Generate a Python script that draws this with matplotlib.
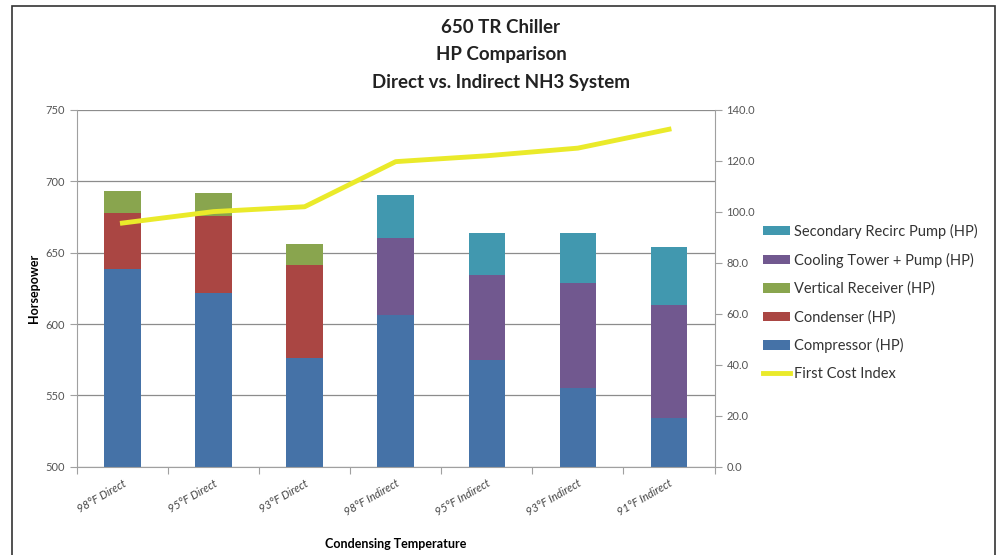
import numpy as np
import matplotlib
matplotlib.use("Agg")
from matplotlib import pyplot as plt
from matplotlib.patches import Rectangle

plt.rcParams.update({
    "font.family": ["Lato", "DejaVu Sans"],
    "font.size": 8,
})

categories = ["98°F Direct", "95°F Direct", "93°F Direct", "98°F Indirect",
              "95°F Indirect", "93°F Indirect", "91°F Indirect"]

# stacked horsepower segments (left axis starts at 500)
compressor = [638.5, 621.5, 576.5, 606, 575, 555, 534]
condenser = [39.5, 54.5, 64.5, 0, 0, 0, 0]
vertical_receiver = [15, 15.5, 15, 0, 0, 0, 0]
cooling_tower = [0, 0, 0, 54.5, 59, 74, 79.5]
secondary_pump = [0, 0, 0, 30, 30, 35, 40.5]

first_cost_index = [95.6, 100.1, 102.0, 119.7, 122.0, 125.0, 132.4]

colors = {
    "Compressor (HP)": "#4572A7",
    "Condenser (HP)": "#AA4643",
    "Vertical Receiver (HP)": "#89A54E",
    "Cooling Tower + Pump (HP)": "#71588F",
    "Secondary Recirc Pump (HP)": "#4198AF",
}

fig = plt.figure(figsize=(9.98, 5.55), dpi=100)
fig.patches.append(Rectangle((0.012, -0.01), 0.985, 1.0, transform=fig.transFigure,
                             fill=False, edgecolor="#333333", linewidth=1.2))

ax = fig.add_axes([0.077, 0.159, 0.639, 0.643])
x = np.arange(len(categories))
w = 0.4

bottom = np.zeros(len(categories))
series = [("Compressor (HP)", compressor), ("Condenser (HP)", condenser),
          ("Vertical Receiver (HP)", vertical_receiver),
          ("Cooling Tower + Pump (HP)", cooling_tower),
          ("Secondary Recirc Pump (HP)", secondary_pump)]
handles = {}
for i, (name, vals) in enumerate(series):
    vals = np.array(vals, dtype=float)
    if i == 0:
        b = ax.bar(x, vals - 500, w, bottom=500, color=colors[name], zorder=2)
        bottom = vals.copy()
    else:
        b = ax.bar(x, vals, w, bottom=bottom, color=colors[name], zorder=2)
        bottom = bottom + vals
    handles[name] = b

ax.set_ylim(500, 750)
ax.set_xlim(-0.5, len(categories) - 0.5)
ax.set_yticks(np.arange(500, 751, 50))
ax.yaxis.grid(True, color="#8c8c8c", linewidth=0.9, zorder=0)
ax.set_axisbelow(True)
for s in ["top", "right"]:
    ax.spines[s].set_visible(False)
ax.spines["left"].set_color("#a0a0a0")
ax.spines["bottom"].set_color("#a0a0a0")
ax.tick_params(axis="y", colors="#a0a0a0", labelcolor="#555555", length=5, labelsize=8)
ax.tick_params(axis="x", colors="#a0a0a0", labelcolor="#444444", length=5, labelsize=8)
ax.set_xticks(np.arange(-0.5, len(categories), 1), minor=False)
ax.set_xticklabels([])
ax.set_xticks(x, minor=True)
ax.set_xticklabels(categories, minor=True, rotation=30, ha="right",
                   rotation_mode="anchor", style="italic", color="#444444")
ax.tick_params(axis="x", which="minor", length=0, pad=8)
ax.set_ylabel("Horsepower", fontweight="bold", fontsize=9, labelpad=4)
ax.set_xlabel("Condensing Temperature", fontweight="bold", fontsize=9, labelpad=14)

ax2 = ax.twinx()
line, = ax2.plot(x, first_cost_index, color="#EAEA2A", linewidth=3.5, zorder=5)
ax2.set_ylim(0, 140)
ax2.set_yticks(np.arange(0, 141, 20))
ax2.set_yticklabels([f"{v:.1f}" for v in np.arange(0, 141, 20)])
for s in ["top", "left", "bottom"]:
    ax2.spines[s].set_visible(False)
ax2.spines["right"].set_color("#a0a0a0")
ax2.tick_params(axis="y", colors="#a0a0a0", labelcolor="#555555", length=5, labelsize=8)

leg_names = ["Secondary Recirc Pump (HP)", "Cooling Tower + Pump (HP)",
             "Vertical Receiver (HP)", "Condenser (HP)", "Compressor (HP)"]
leg = fig.legend([handles[n] for n in leg_names] + [line],
                 leg_names + ["First Cost Index"],
                 loc="center left", bbox_to_anchor=(0.759, 0.455),
                 frameon=False, fontsize=10.5, handlelength=1.8, handleheight=0.6,
                 labelspacing=0.95, handletextpad=0.3, borderaxespad=0)
for t in leg.get_texts():
    t.set_color("#333333")

title_lines = ["650 TR Chiller", "HP Comparison", "Direct vs. Indirect NH3 System"]
for ty, txt in zip([0.951, 0.901, 0.851], title_lines):
    fig.text(0.502, ty, txt, ha="center", va="center",
             fontsize=13.5, fontweight="bold", color="#222222")

fig.savefig("out.png", dpi=100)
